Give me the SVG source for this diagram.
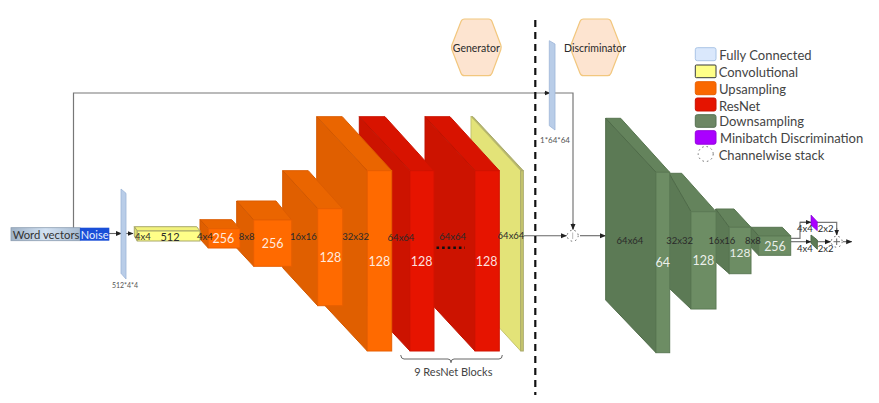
<svg xmlns="http://www.w3.org/2000/svg" width="879" height="403" viewBox="0 0 879 403">
<style>
text{font-family:Lato,"Open Sans","Liberation Sans",sans-serif;text-anchor:middle;dominant-baseline:central}
.d{fill:#2a2a2a;font-size:9.500px}
.w{fill:#fff;fill-opacity:.88;font-size:12.500px}
.l{fill:#444;font-size:13px;text-anchor:start}
.c{fill:none;stroke:#777;stroke-width:1.2}
.a{fill:none;stroke:#666;stroke-width:1.1;marker-end:url(#arr)}
.st{fill:none;stroke:#666;stroke-width:1;stroke-dasharray:1.500 3}
.or .f{fill:#ff6a00;stroke:#e85f00}.or .s{fill:#e05f00;stroke:#d25800}.or .t{fill:#ea6500;stroke:#dc5c00}
.re .f{fill:#e61400;stroke:#d21200}.re .s{fill:#cc1300;stroke:#bf1200}.re .t{fill:#d81300;stroke:#cc1300}
.gr .f{fill:#6d8d64;stroke:#5c7a55}.gr .s{fill:#5c7a55;stroke:#4f6b49}.gr .t{fill:#64835c;stroke:#587650}
.ye .f{fill:#ffff88;stroke:#a8a86a}.ye .s{fill:#dede70;stroke:#a8a86a}.ye .t{fill:#f2f27c;stroke:#a8a86a}
.fc{fill:#b9cde8;stroke:#9db5d8;stroke-width:.8}
.hx{fill:#fde4d0;stroke:#f2c77e;stroke-width:1.200}
</style>
<defs>
<marker id="arr" viewBox="0 0 6 6" refX="5.500" refY="3" markerWidth="6" markerHeight="6" markerUnits="userSpaceOnUse" orient="auto"><path d="M0 .5L6 3L0 5.500Z" fill="#222"/></marker>
<linearGradient id="wv" x1="0" x2="1" y1="0" y2="0"><stop offset="0" stop-color="#9fb2c6"/><stop offset=".5" stop-color="#d3e2f3"/><stop offset="1" stop-color="#a6bad0"/></linearGradient>
</defs>

<g id="generator-label"><path class="hx" d="M464.500 19H488.500Q491 19 492 21.500L500.800 45Q501.700 47.400 500.800 49.800L492 73.200Q491 75.700 488.500 75.700H464.500Q462 75.700 461 73.200L451.900 49.800Q451 47.400 451.900 45L461 21.500Q462 19 464.500 19Z"/><text class="d" style="font-size:10.500px" x="476.300" y="47.500">Generator</text></g>
<g id="discriminator-label"><path class="hx" d="M583.500 19H607.500Q610 19 611 21.500L620.100 45Q621 47.400 620.100 49.800L611 73.200Q610 75.700 607.500 75.700H583.500Q581 75.700 580 73.200L570.900 49.800Q570 47.400 570.900 45L580 21.500Q581 19 583.500 19Z"/><text class="d" style="font-size:10.500px" x="595" y="47.500">Discriminator</text></g>

<g id="connectors">
<path class="c" d="M73.500 228V93H573V229"/>
<path d="M544 93H550" class="a"/>
<path d="M573 223V229.500" class="a"/>
<path d="M109 233.500H121.500" class="a"/>
<path d="M126 233.500H133" class="a"/>
<path d="M524 235.700H566.500" class="a"/>
<path d="M580 235.700H605.500" class="a"/>
<path class="c" d="M790.700 238.300H800V222.300H806"/>
<path d="M800 222.300H811" class="a"/>
<path d="M790.700 241.700H811" class="a"/>
<path class="c" d="M817 222.300H836.700V235"/>
<path d="M836.700 228V235" class="a"/>
<path d="M817 241.700H830.500" class="a"/>
<path d="M843 241.700H851.700" class="a"/>
</g>

<path id="divider" d="M535.300 20V395" fill="none" stroke="#111" stroke-width="2.200" stroke-dasharray="7 5"/>

<g id="input"><rect x="11" y="227.700" width="69" height="13" fill="url(#wv)" stroke="#8a9cb0" stroke-width=".8"/><rect x="80" y="227.700" width="29.300" height="13" fill="#1a4fd8"/>
<text x="46" y="234.500" style="font-size:11.300px;fill:#333">Word vectors</text><text x="94.700" y="234.500" style="font-size:11px;fill:#e6eeff">Noise</text></g>

<g id="fc-1"><path class="fc" d="M121 189L126 193.300V279L121 273.300Z"/><text class="d" style="font-size:7px;fill:#555" x="125" y="285">512*4*4</text></g>
<g id="fc-2"><path class="fc" d="M549.300 40.700L555 44V130L549.300 125.700Z"/><text class="d" style="font-size:8px;fill:#555" x="555" y="140">1*64*64</text></g>

<g id="conv-64" class="ye"><path d="M471 116.700L473 116.700L523.300 170.700H520.700Z" fill="#b5b56a" stroke="#a8a86a"/><path d="M471 116.700L520.700 170.700V351L471 297Z" fill="#e3e378" stroke="#c5c56e"/><rect class="s" x="520.700" y="170.700" width="2.600" height="180.300" style="fill:#c9c96e"/></g>

<g id="res-2" class="re"><path class="t" d="M425 116.700H450L499.300 170.700H475Z"/><path class="s" d="M425 116.700L475 170.700V351L425 297Z"/><rect class="f" x="475" y="170.700" width="24.300" height="180.300"/><text class="w" x="486.700" y="261">128</text></g>

<g id="res-1" class="re"><path class="t" d="M359.300 116.700H385L434 170.700H410Z"/><path class="s" d="M359.300 116.700L410 170.700V351L359.300 297Z"/><rect class="f" x="410" y="170.700" width="24" height="180.300"/><text class="w" x="421.700" y="261">128</text></g>

<g id="up-32" class="or"><path class="t" d="M316.700 116.700H342.300L391.700 170.700H367.300Z"/><path class="s" d="M316.700 116.700L367.300 170.700V351L316.700 296.700Z"/><rect class="f" x="367.300" y="170.700" width="24.400" height="180.300"/><text class="w" x="379.300" y="261">128</text></g>

<g id="up-16" class="or"><path class="t" d="M282.700 170.700H308.300L342.700 208.700H317.700Z"/><path class="s" d="M282.700 170.700L317.700 208.700V305.700L282.700 267.700Z"/><rect class="f" x="317.700" y="208.700" width="25" height="97"/><text class="w" x="330.300" y="257">128</text></g>

<g id="up-8" class="or"><path class="t" d="M236.700 201H276L291.700 220H253.700Z"/><path class="s" d="M236.700 201L253.700 220V266.300L236.700 248Z"/><rect class="f" x="253.700" y="220" width="38" height="46.300"/><text class="w" x="272.700" y="243.300">256</text></g>

<g id="up-4" class="or"><path class="t" d="M200 219.700H231.700L240 228.700H208.300Z"/><path class="s" d="M200 219.700L208.300 228.700V248L200 239Z"/><rect class="f" x="208.300" y="228.700" width="31.700" height="19.300"/><text class="w" x="223.300" y="238">256</text></g>

<g id="conv-4" class="ye"><path class="t" d="M134.300 226.700H196.700L200 231H137.300Z"/><path class="s" d="M134.300 226.700L137.300 231V241L134.300 236Z"/><rect class="f" x="137.300" y="231" width="62.700" height="10"/><text class="d" style="font-size:11px" x="170" y="236.700">512</text></g>

<g id="resnet-dots"><path d="M436.500 247.700H465" fill="none" stroke="#111" stroke-width="2.600" stroke-dasharray="2.600 3"/></g>

<g id="resnet-brace"><path d="M400.700 355Q401 359 404 359H448Q451 359 451 362.700Q451 359 454 359H499Q502.300 359 502.300 355" fill="none" stroke="#666"/><text x="453.300" y="371" style="font-size:11px;fill:#444">9 ResNet Blocks</text></g>

<g id="stack-1"><circle class="st" cx="572.700" cy="235.700" r="5.500"/><path d="M572.700 232.500V239" stroke="#bbb" fill="none"/></g>

<g id="down-4" class="gr"><path class="t" d="M751 227.300H782.300L790.700 236H758.700Z"/><path class="s" d="M751 227.300L758.700 236V255.300L751 247.300Z"/><rect class="f" x="758.700" y="236" width="32" height="19.300"/><text class="w" x="775" y="246">256</text></g>
<g id="down-3" class="gr"><path class="t" d="M715.700 209H734L751 227.300H729.300Z"/><path class="s" d="M715.700 209L729.300 227.300V273.700L715.700 261.700Z"/><rect class="f" x="729.300" y="227.300" width="21.700" height="46.400"/><text class="w" style="font-size:12px" x="740" y="252.500">128</text></g>
<g id="down-2" class="gr"><path class="t" d="M669 173.300H681.700L716 211.700H691Z"/><path class="s" d="M669 173.300L691 211.700V309L669 288Z"/><rect class="f" x="691" y="211.700" width="25" height="97.300"/><text class="w" x="703.300" y="260">128</text></g>
<g id="down-1" class="gr"><path class="t" d="M605.700 118.300H620.700L669.700 172.300H656Z"/><path class="s" d="M605.700 118.300L656 172.300V352.700L605.700 300Z"/><rect class="f" x="656" y="172.300" width="13.700" height="180.400"/><text class="w" x="662.700" y="262.700">64</text></g>

<g id="minibatch"><path d="M811 215L817.300 221.700V230.700L811 225Z" fill="#aa00ff" stroke="#7700cc" stroke-width=".6"/></g>
<g id="down-5" class="gr"><path class="s" d="M811 235L817.300 240V249.300L811 243.300Z"/></g>
<g id="stack-2"><circle class="st" cx="836.700" cy="241.700" r="5.500"/><path d="M833.500 241.700H840M836.700 238.500V245" stroke="#666" fill="none"/></g>

<g id="size-labels">
<text class="d" x="143" y="236.700">4x4</text><text class="d" x="205" y="236.700">4x4</text>
<text class="d" x="246.700" y="236.700">8x8</text><text class="d" x="303.300" y="236.700">16x16</text><text class="d" x="355.700" y="236.700">32x32</text>
<text class="d" x="401" y="237.700">64x64</text><text class="d" x="452.700" y="236.700">64x64</text><text class="d" x="511" y="235.700">64x64</text>
<text class="d" x="630" y="240.700">64x64</text><text class="d" x="679.700" y="240.700">32x32</text><text class="d" x="722" y="240.700">16x16</text><text class="d" x="753" y="240.700">8x8</text>
<text class="d" x="805" y="228">4x4</text><text class="d" x="825.700" y="228">2x2</text><text class="d" x="805" y="248">4x4</text><text class="d" x="825.700" y="248">2x2</text>
</g>

<g id="legend">
<rect x="695.300" y="47.700" width="20.700" height="13" rx="2" fill="#dae8fc" stroke="#a9c4e6"/><text class="l" x="719.300" y="54.500">Fully Connected</text>
<rect x="695.300" y="65" width="20.700" height="12.700" rx="1" fill="#ffff88" stroke="#36393d"/><text class="l" x="718.700" y="71.500">Convolutional</text>
<rect x="695.300" y="81.700" width="20.700" height="13" rx="2" fill="#fa6800" stroke="#e85f00"/><text class="l" x="719" y="89">Upsampling</text>
<rect x="695.300" y="98" width="20.700" height="13" rx="2" fill="#e51400" stroke="#c81200"/><text class="l" x="719" y="105.500">ResNet</text>
<rect x="695.300" y="114.700" width="20.700" height="12.600" rx="2" fill="#6d8764" stroke="#557050"/><text class="l" x="719.300" y="121">Downsampling</text>
<rect x="695.300" y="130.700" width="20.700" height="13.500" rx="2" fill="#aa00ff" stroke="#9400dd"/><text class="l" x="720" y="138">Minibatch Discrimination</text>
<circle class="st" cx="705.700" cy="154" r="7.500"/><text class="l" x="718.700" y="154.500">Channelwise stack</text>
</g>
</svg>
